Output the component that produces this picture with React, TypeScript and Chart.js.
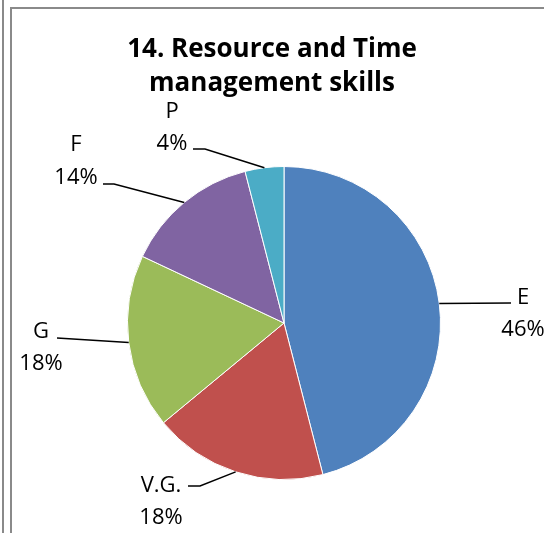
import React, { useEffect, useRef } from "react";
import { Chart, registerables } from "chart.js";

Chart.register(...registerables);

const categories = ["E", "V.G.", "G", "F", "P"];
const percentages = [46, 18, 18, 14, 4];
const sliceColors = ["#4F81BD", "#C0504D", "#9BBB59", "#8064A2", "#4BACC6"];
const titleLines = ["14. Resource and Time", "management skills"];

// label text placement (center x, name baseline, pct baseline) and leader anchor/elbow
const labelLayout = [
  { cx: 523, nameY: 304, pctY: 336, endX: 511, endY: 303, elbowX: 511, elbowY: 303 },
  { cx: 161, nameY: 492, pctY: 524, endX: 188, endY: 486, elbowX: 200, elbowY: 486 },
  { cx: 41, nameY: 338, pctY: 370, endX: 57, endY: 338, elbowX: 57, elbowY: 338 },
  { cx: 76, nameY: 151, pctY: 184, endX: 103, endY: 184, elbowX: 114, elbowY: 184 },
  { cx: 172, nameY: 118, pctY: 150, endX: 193, endY: 149, elbowX: 205, elbowY: 149 },
];

const FONT = '"Open Sans", "Liberation Sans", sans-serif';

const decorPlugin = {
  id: "decor",
  beforeDraw(chart: any) {
    const ctx = chart.ctx;
    ctx.save();
    ctx.fillStyle = "#ffffff";
    ctx.fillRect(0, 0, chart.width, chart.height);
    ctx.strokeStyle = "#8a8a8a";
    ctx.lineWidth = 2;
    ctx.beginPath();
    ctx.moveTo(3, 0);
    ctx.lineTo(3, chart.height);
    ctx.moveTo(11, chart.height);
    ctx.lineTo(11, 8);
    ctx.lineTo(chart.width, 8);
    ctx.stroke();
    ctx.restore();
  },
  afterDraw(chart: any) {
    const ctx = chart.ctx;
    ctx.save();
    // title
    ctx.fillStyle = "#000000";
    ctx.textAlign = "center";
    ctx.textBaseline = "alphabetic";
    ctx.font = `bold 26px ${FONT}`;
    ctx.fillText(titleLines[0], 272, 57);
    ctx.fillText(titleLines[1], 272, 91);

    const meta = chart.getDatasetMeta(0);
    const total = percentages.reduce((a, b) => a + b, 0);
    meta.data.forEach((arc: any, i: number) => {
      const p = arc.getProps(["x", "y", "startAngle", "endAngle", "outerRadius"], true);
      const mid = (p.startAngle + p.endAngle) / 2;
      const ax = p.x + Math.cos(mid) * p.outerRadius;
      const ay = p.y + Math.sin(mid) * p.outerRadius;
      const L = labelLayout[i];
      ctx.strokeStyle = "#000000";
      ctx.lineWidth = 1.5;
      ctx.beginPath();
      ctx.moveTo(ax, ay);
      ctx.lineTo(L.elbowX, L.elbowY);
      ctx.lineTo(L.endX, L.endY);
      ctx.stroke();
      ctx.font = `22px ${FONT}`;
      ctx.textAlign = "center";
      ctx.fillStyle = "#000000";
      ctx.fillText(categories[i], L.cx, L.nameY);
      ctx.fillText(Math.round((percentages[i] / total) * 100) + "%", L.cx, L.pctY);
    });
    ctx.restore();
  },
};

export default function App() {
  const ref = useRef<HTMLCanvasElement | null>(null);
  useEffect(() => {
    if (!ref.current) return;
    const chart = new Chart(ref.current, {
      type: "pie",
      data: {
        labels: categories,
        datasets: [
          {
            data: percentages,
            backgroundColor: sliceColors,
            borderColor: "#ffffff",
            borderWidth: 1,
          },
        ],
      },
      options: {
        responsive: false,
        animation: false,
        layout: { padding: { left: 127, right: 103, top: 166, bottom: 53 } },
        plugins: {
          legend: { display: false },
          tooltip: { enabled: false },
          title: { display: false },
        },
      },
      plugins: [decorPlugin],
    });
    return () => chart.destroy();
  }, []);
  return (
    <div style={{ position: "fixed", left: 0, top: 0, width: 544, height: 533 }}>
      <canvas ref={ref} width={544} height={533} style={{ width: 544, height: 533 }} />
    </div>
  );
}
